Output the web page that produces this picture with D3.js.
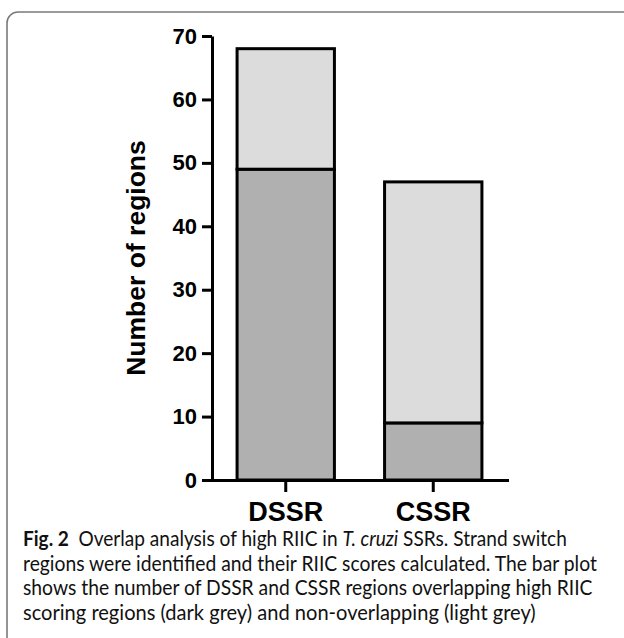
<!DOCTYPE html>
<html>
<head>
<meta charset="utf-8">
<script src="https://cdn.jsdelivr.net/npm/d3@7"></script>
<style>
  body { margin: 0; background: #fff; }
  svg { display: block; }
</style>
</head>
<body>
<div id="chart"></div>
<script>
// data
const categories = ["DSSR", "CSSR"];
const overlapping = [49, 9];      // dark grey
const nonOverlapping = [19, 38];  // light grey
const yTicks = [0, 10, 20, 30, 40, 50, 60, 70];

const captionLines = [
    [["Fig. 2", "bold"], ["\u2002Overlap analysis of high RIIC in ", ""], ["T. cruzi", "italic"], [" SSRs. Strand switch", ""]],
    [["regions were identified and their RIIC scores calculated. The bar plot", ""]],
    [["shows the number of DSSR and CSSR regions overlapping high RIIC", ""]],
    [["scoring regions (dark grey) and non-overlapping (light grey)", ""]]
];
const captionWidths = [544, 574, 570, 513];

const width = 624, height = 638;
const margin = { top: 36, left: 212, right: 117, bottom: 158 };

const svg = d3.select("#chart")
    .append("svg")
    .attr("width", width)
    .attr("height", height);

// panel frame, runs off the right and bottom edge
svg.append("rect")
    .attr("x", 7).attr("y", 12)
    .attr("width", 720).attr("height", 720)
    .attr("rx", 11)
    .attr("fill", "none")
    .attr("stroke", "#7a7a7a")
    .attr("stroke-width", 1.6);

const x = d3.scaleBand()
    .domain(categories)
    .range([margin.left, width - margin.right])
    .paddingInner(0.34)
    .paddingOuter(0.17);

const y = d3.scaleLinear()
    .domain([0, 70])
    .range([height - margin.bottom, margin.top]);

const rows = categories.map((c, i) => ({ cat: c, over: overlapping[i], non: nonOverlapping[i] }));
const stack = d3.stack().keys(["over", "non"])(rows);
const fills = { over: "#b0b0b0", non: "#dcdcdc" };

const g = svg.append("g");
g.selectAll("g.series")
    .data(stack)
    .join("g")
    .attr("class", "series")
    .attr("fill", d => fills[d.key])
    .selectAll("rect")
    .data(d => d)
    .join("rect")
    .attr("x", d => x(d.data.cat))
    .attr("y", d => y(d[1]))
    .attr("width", x.bandwidth())
    .attr("height", d => y(d[0]) - y(d[1]))
    .attr("stroke", "#000")
    .attr("stroke-width", 3);

// y axis
const yAxis = svg.append("g")
    .attr("transform", `translate(${margin.left},0)`)
    .call(d3.axisLeft(y).tickValues(yTicks).tickSize(10).tickSizeOuter(0).tickPadding(5));
yAxis.select(".domain").attr("stroke-width", 3).attr("stroke", "#000");
yAxis.selectAll(".tick line").attr("stroke-width", 3).attr("stroke", "#000");
yAxis.selectAll(".tick text")
    .attr("fill", "#000")
    .style("font-family", "'Liberation Sans', Arial, sans-serif")
    .style("font-weight", "bold")
    .style("font-size", "22px");

// x axis
const xAxis = svg.append("g")
    .attr("transform", `translate(0,${y(0)})`)
    .call(d3.axisBottom(x).tickSize(12).tickSizeOuter(0).tickPadding(10));
xAxis.select(".domain").attr("stroke-width", 3).attr("stroke", "#000")
    .attr("stroke-linecap", "square");
xAxis.selectAll(".tick line").attr("stroke-width", 3).attr("stroke", "#000");
xAxis.selectAll(".tick text")
    .attr("fill", "#000")
    .style("font-family", "'Liberation Sans', Arial, sans-serif")
    .style("font-weight", "bold")
    .style("font-size", "27px");

// y title
svg.append("text")
    .attr("transform", `translate(145,${(y(0) + y(70)) / 2}) rotate(-90)`)
    .attr("text-anchor", "middle")
    .style("font-family", "'Liberation Sans', Arial, sans-serif")
    .style("font-weight", "bold")
    .style("font-size", "26.5px")
    .text("Number of regions");

// caption, each line squeezed horizontally to the reference width
const cap = svg.append("g")
    .style("font-family", "Lato, 'Open Sans', sans-serif")
    .style("font-size", "20.5px")
    .attr("fill", "#111");

captionLines.forEach((segs, i) => {
    const t = cap.append("text")
        .attr("xml:space", "preserve");
    segs.forEach(([s, style]) => {
        const ts = t.append("tspan").text(s);
        if (style === "bold") ts.style("font-weight", "bold");
        if (style === "italic") ts.style("font-style", "italic");
    });
    const w = t.node().getComputedTextLength();
    t.attr("transform", `translate(23,${546 + i * 24.7}) scale(${captionWidths[i] / w},1)`);
});
</script>
</body>
</html>
